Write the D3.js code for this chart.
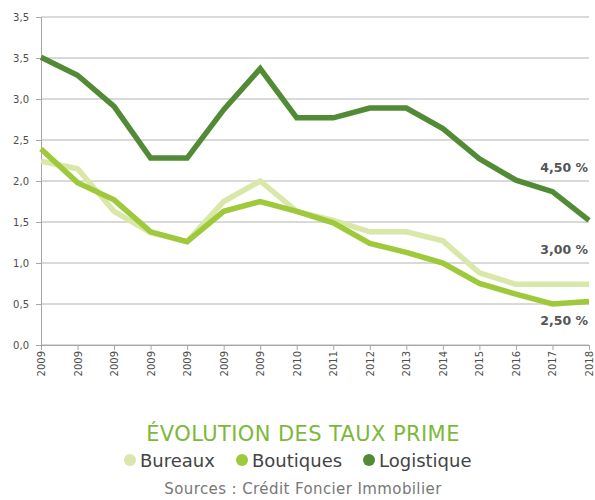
<!DOCTYPE html>
<html>
<head>
<meta charset="utf-8">
<script src="https://cdn.jsdelivr.net/npm/d3@7"></script>
<style>
  body { margin: 0; background: #fff; }
  text { font-family: "DejaVu Sans", sans-serif; }
</style>
</head>
<body>
<div id="chart"></div>
<script>
// Data
const years = ["2009","2009","2009","2009","2009","2009","2009","2010","2011","2012","2013","2014","2015","2016","2017","2018"]
const bureaux = [2.24, 2.15, 1.63, 1.37, 1.26, 1.75, 2.00, 1.63, 1.52, 1.38, 1.38, 1.27, 0.88, 0.74, 0.74, 0.74]
const boutiques = [2.39, 1.98, 1.77, 1.38, 1.26, 1.63, 1.75, 1.63, 1.49, 1.24, 1.13, 1.00, 0.75, 0.62, 0.50, 0.53]
const logistique = [3.51, 3.29, 2.91, 2.28, 2.28, 2.87, 3.37, 2.77, 2.77, 2.89, 2.89, 2.64, 2.27, 2.01, 1.87, 1.52]
const yTicks = [0, 0.5, 1, 1.5, 2, 2.5, 3, 3.5, 4]
const yTickLabels = ["0,0", "0,5", "1,0", "1,5", "2,0", "2,5", "3,0", "3,5", "3,5"]
const seriesNames = ["Bureaux", "Boutiques", "Logistique"]
const endLabels = ["3,00 %", "2,50 %", "4,50 %"]
const colors = ["#d9e7a9", "#9ec93b", "#518b35"]

const W = 595, H = 500
const margin = {top: 17, right: 6, bottom: 155, left: 41}
const width = W - margin.left - margin.right
const height = H - margin.top - margin.bottom

const svg = d3.select("#chart").append("svg")
    .attr("width", W)
    .attr("height", H)

const g = svg.append("g")
    .attr("transform", "translate(" + margin.left + "," + margin.top + ")")

const x = d3.scaleLinear()
    .domain([0, years.length - 1])
    .range([0, width])
const y = d3.scaleLinear()
    .domain([0, 4])
    .range([height, 0])

// Gridlines
g.selectAll(".grid")
    .data(yTicks)
    .join("line")
    .attr("class", "grid")
    .attr("x1", 0)
    .attr("x2", width)
    .attr("y1", d => y(d))
    .attr("y2", d => y(d))
    .attr("stroke", "#b3b3b3")
    .attr("stroke-width", 1)

// Y axis
const yAxis = d3.axisLeft(y)
    .tickValues(yTicks)
    .tickFormat((d, i) => yTickLabels[i])
    .tickSize(5)
    .tickPadding(7)
g.append("g")
    .call(yAxis)
    .call(a => a.select(".domain").attr("stroke", "#a6a6a6"))
    .call(a => a.selectAll(".tick line").attr("stroke", "#a6a6a6"))
    .call(a => a.selectAll(".tick text")
        .attr("fill", "#4d4d4d")
        .attr("font-size", 10)
        .attr("font-family", "'DejaVu Sans', sans-serif"))

// X axis
const xAxis = d3.axisBottom(x)
    .tickValues(d3.range(years.length))
    .tickFormat(i => years[i])
    .tickSize(5)
    .tickSizeOuter(0)
g.append("g")
    .attr("transform", "translate(0," + height + ")")
    .call(xAxis)
    .call(a => a.select(".domain").attr("stroke", "#a6a6a6"))
    .call(a => a.selectAll(".tick line").attr("stroke", "#a6a6a6"))
    .call(a => a.selectAll(".tick text")
        .attr("fill", "#4d4d4d")
        .attr("font-size", 10)
        .attr("font-family", "'DejaVu Sans', sans-serif")
        .attr("transform", "rotate(-90)")
        .attr("text-anchor", "end")
        .attr("x", -6)
        .attr("y", 0)
        .attr("dy", "0.35em"))

// Lines
const line = d3.line()
    .x((d, i) => x(i))
    .y(d => y(d))

const allSeries = [bureaux, boutiques, logistique]
g.selectAll(".series")
    .data(allSeries)
    .join("path")
    .attr("class", "series")
    .attr("fill", "none")
    .attr("stroke", (d, i) => colors[i])
    .attr("stroke-width", 5.5)
    .attr("stroke-linejoin", "miter")
    .attr("d", line)

// End labels
const labelVals = [1.11, 0.24, 2.11]
g.selectAll(".endlabel")
    .data(endLabels)
    .join("text")
    .attr("class", "endlabel")
    .attr("x", width - 1)
    .attr("y", (d, i) => y(labelVals[i]))
    .attr("text-anchor", "end")
    .attr("font-size", 12.5)
    .attr("font-weight", "bold")
    .attr("fill", "#555")
    .text(d => d)

// Title
svg.append("text")
    .attr("x", 303)
    .attr("y", 441)
    .attr("text-anchor", "middle")
    .attr("font-size", 21)
    .attr("letter-spacing", 0.4)
    .attr("fill", "#7db83a")
    .text("ÉVOLUTION DES TAUX PRIME")

// Legend
const legendX = [130, 242, 369]
const legend = svg.selectAll(".legend")
    .data(seriesNames)
    .join("g")
    .attr("class", "legend")
    .attr("transform", (d, i) => "translate(" + legendX[i] + ",460)")
legend.append("circle")
    .attr("r", 6)
    .attr("fill", (d, i) => colors[i])
legend.append("text")
    .attr("x", 10)
    .attr("y", 6.5)
    .attr("font-size", 18)
    .attr("fill", "#444")
    .text(d => d)

// Sources
svg.append("text")
    .attr("x", 303)
    .attr("y", 494)
    .attr("text-anchor", "middle")
    .attr("font-size", 15)
    .attr("letter-spacing", 0.4)
    .attr("fill", "#777")
    .text("Sources : Crédit Foncier Immobilier")
</script>
</body>
</html>
